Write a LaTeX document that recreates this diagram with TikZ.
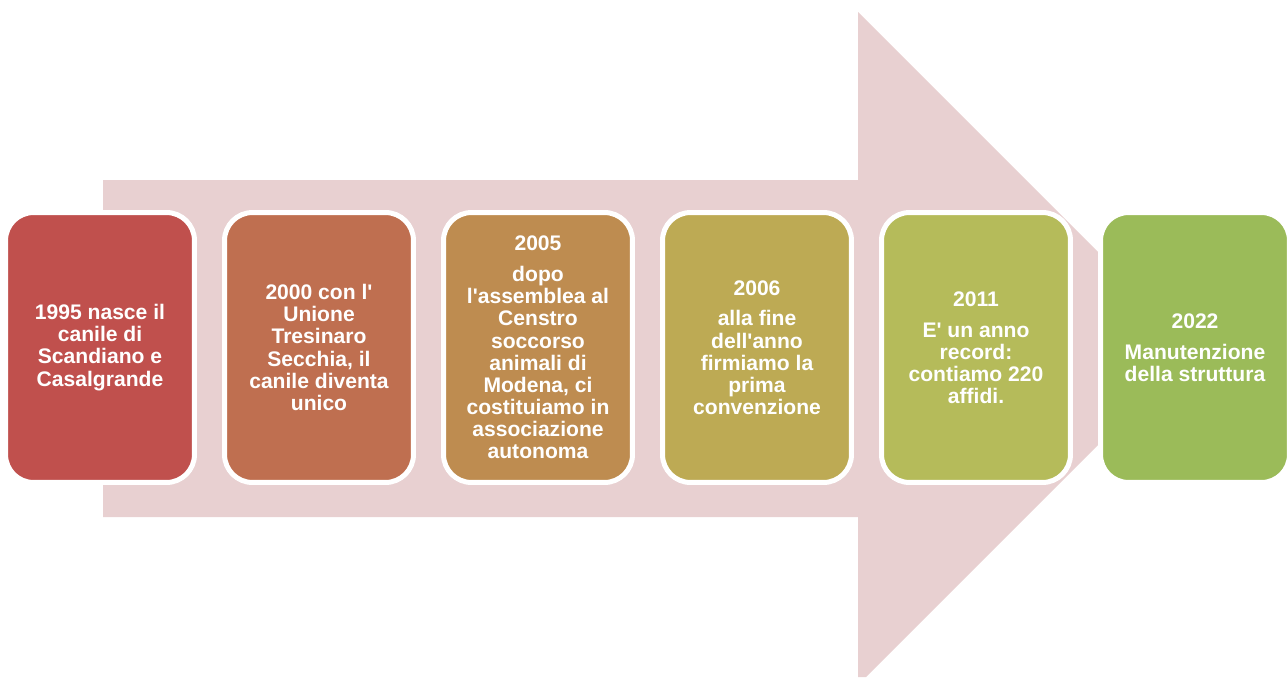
\documentclass[tikz,border=0pt]{standalone}
\usepackage{fontspec}
\setmainfont{Liberation Sans}
\definecolor{arrowpink}{HTML}{E8D0D1}
\definecolor{colA}{HTML}{C0504D}
\definecolor{colB}{HTML}{BF6F50}
\definecolor{colC}{HTML}{BE8C50}
\definecolor{colD}{HTML}{BDAA54}
\definecolor{colE}{HTML}{B5BB5A}
\definecolor{colF}{HTML}{9BBB59}
\newcommand{\apo}{\textquotesingle}
\begin{document}
\begin{tikzpicture}[x=0.02cm, y=-0.02cm,
  yearbox/.style={draw=white, line width=0.1cm, rounded corners=0.56cm,
    minimum width=3.78cm, minimum height=5.4cm, inner sep=0pt,
    text=white, align=center, font=\bfseries\fontsize{12}{12.6}\selectfont}]
\useasboundingbox (0,0) rectangle (1288,677);
\fill[arrowpink] (103,180) -- (858,180) -- (858,12) -- (1100,254) -- (1100,443)
  -- (866,677) -- (858,677) -- (858,517) -- (103,517) -- cycle;
\node[yearbox, fill=colA] (Y_1995) at (100,347.5) {1995 nasce il\\canile di\\Scandiano e\\Casalgrande};
\node[yearbox, fill=colB] (Y_2000) at (319,347.5) {2000 con l\apo\\Unione\\Tresinaro\\Secchia, il\\canile diventa\\unico};
\node[yearbox, fill=colC] (Y_2005) at (538,347.5) {2005\\[5pt]dopo\\l\apo assemblea al\\Censtro\\soccorso\\animali di\\Modena, ci\\costituiamo in\\associazione\\autonoma};
\node[yearbox, fill=colD] (Y_2006) at (757,347.5) {2006\\[5pt]alla fine\\dell\apo anno\\firmiamo la\\prima\\convenzione};
\node[yearbox, fill=colE] (Y_2011) at (976,347.5) {2011\\[5pt]E\apo\ un anno\\record:\\contiamo 220\\affidi.};
\node[yearbox, fill=colF] (Y_2022) at (1195,347.5) {2022\\[5pt]Manutenzione\\della struttura};
\end{tikzpicture}
\end{document}
